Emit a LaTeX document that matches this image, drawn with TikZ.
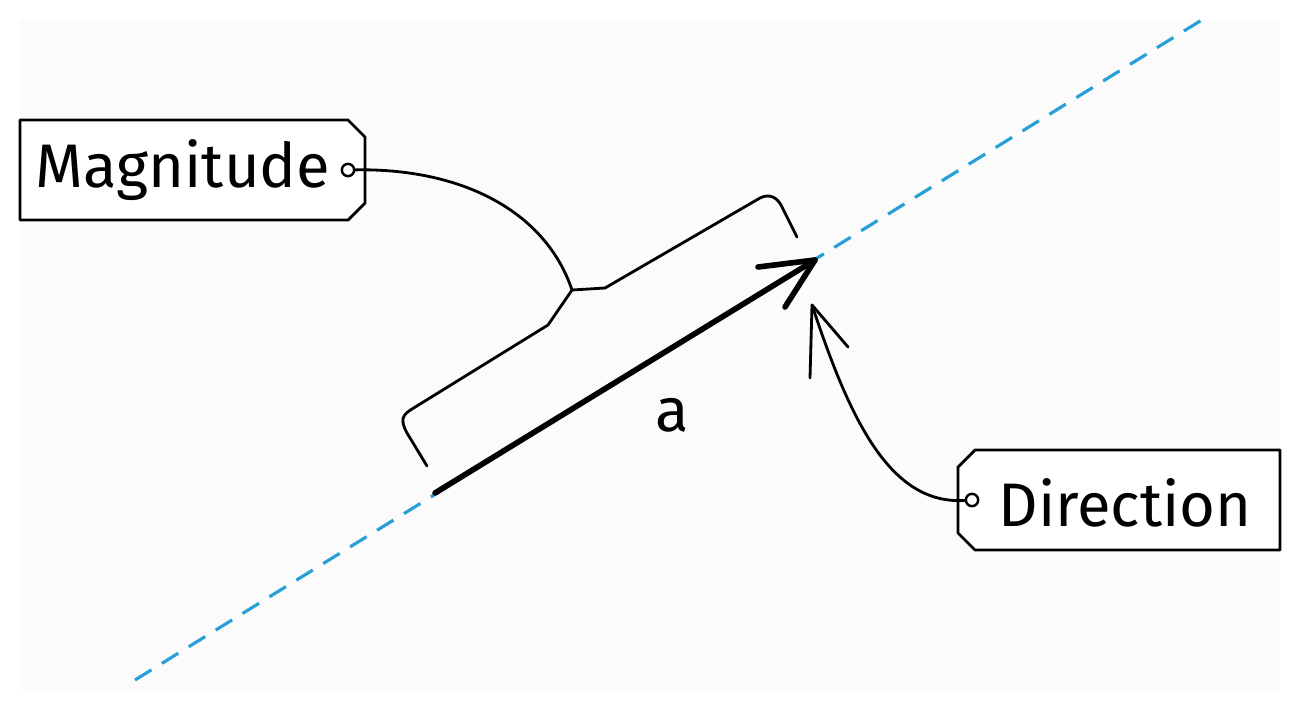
\documentclass[tikz,border=0pt]{standalone}
\usepackage{fontspec}
\setmainfont{Fira Sans}
\begin{document}
\begin{tikzpicture}[x=0.02cm,y=-0.02cm,
  line/.style={line width=1.6pt,line join=round,line cap=round},
  lbl/.style={font=\fontsize{35}{40}\selectfont, inner sep=0pt},
  dot/.style={circle,draw,line width=1.4pt,fill=white,inner sep=0pt,minimum size=7pt}]
\useasboundingbox (0,0) rectangle (1300,700);
\fill[gray!3] (20,20) rectangle (1280,690);
\draw[dashed,color={rgb,255:red,40;green,160;blue,215},line width=1.8pt,dash pattern=on 11pt off 7pt] (135,680) -- (1205,18);
% vector
\coordinate (s) at (435,493);
\coordinate (e) at (815,260);
\draw[line width=3.2pt,line cap=round] (s) -- (e);
\draw[line width=3.2pt,line cap=round,line join=round] (758,267) -- (e) -- (785,307);
\node[lbl] (a) at (672,415) {a};
% brace
\coordinate (tip) at (572,290);
\draw[line] (427,466) -- (407,433) .. controls (400,420) and (402,415) .. (412,409) -- (548,325) -- (tip) -- (605,288) -- (760,198) .. controls (770,193) and (777,198) .. (781,205) -- (797,237);
% magnitude tag
\draw[line,fill=white] (20,120) -- (348,120) -- (365,137) -- (365,203) -- (348,220) -- (20,220) -- cycle;
\node[lbl] (mag) at (183,170) {Magnitude};
\node[dot] (md) at (348,170) {};
\draw[line] (md) .. controls (460,168) and (545,210) .. (tip);
% direction tag
\draw[line,fill=white] (975,450) -- (1280,450) -- (1280,550) -- (975,550) -- (958,533) -- (958,467) -- cycle;
\node[lbl] (dir) at (1125,503) {Direction};
\node[dot] (dd) at (972,500) {};
\coordinate (dh) at (812,305);
\draw[line] (dd) .. controls (890,505) and (850,420) .. (dh);
\draw[line] (848,347) -- (dh) -- (810,378);
\end{tikzpicture}
\end{document}
